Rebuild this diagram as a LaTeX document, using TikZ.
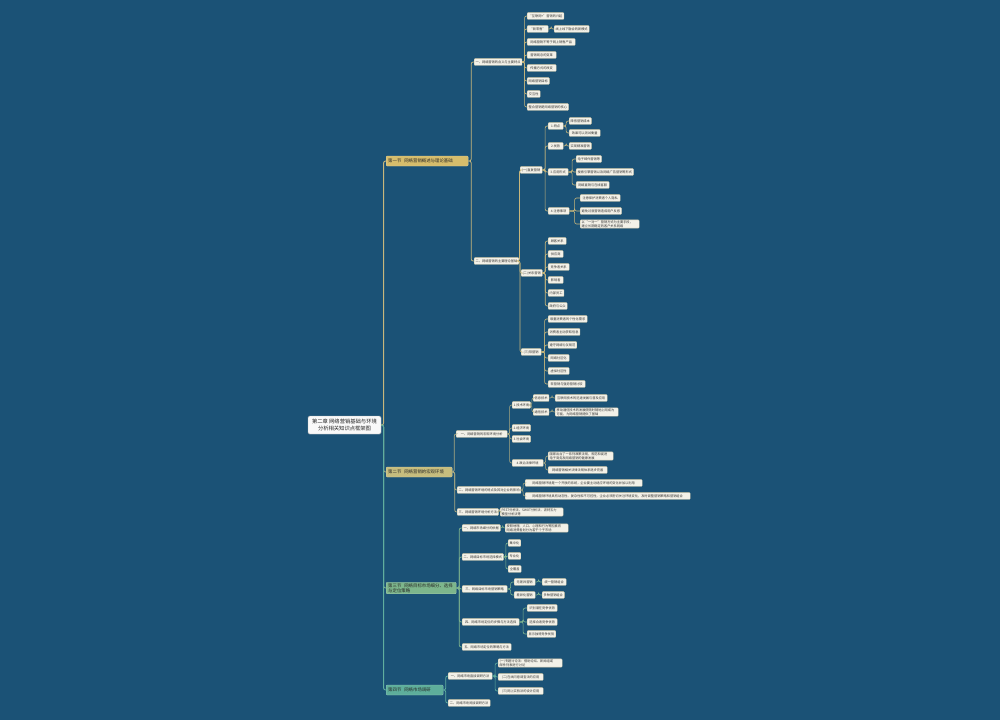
\documentclass[tikz,border=0pt]{standalone}
\usepackage{fontspec}
\setmainfont{Noto Sans CJK SC}
\XeTeXlinebreaklocale "zh"
\XeTeXlinebreakskip=0pt plus 1pt
\usetikzlibrary{calc}
\definecolor{bgc}{HTML}{1B5276}
\definecolor{leaff}{HTML}{F3F1E8}
\definecolor{leafd}{HTML}{CFC7A6}
\definecolor{gA}{HTML}{D6BD6C}
\definecolor{lA}{HTML}{C8B77C}
\definecolor{gB}{HTML}{C6BD7E}
\definecolor{lB}{HTML}{A9A982}
\definecolor{gC}{HTML}{7DB68C}
\definecolor{lC}{HTML}{7FB58E}
\definecolor{gD}{HTML}{5EAE9B}
\definecolor{lD}{HTML}{60AE9E}
\tikzset{
 leaf/.style={draw=leafd, fill=leaff, line width=0.3pt, rounded corners=0.8pt, anchor=west,
   font=\fontsize{3.2}{3.9}\selectfont, text=black!80, inner xsep=1.5pt, inner ysep=0.7pt, minimum height=6.8pt},
 mainb/.style={draw=#1!70!white, fill=#1, line width=0.4pt, rounded corners=1pt, anchor=west,
   font=\fontsize{4.4}{5.4}\selectfont, text=black!85, inner xsep=2pt, inner ysep=1pt, minimum height=10pt, align=left},
 rootn/.style={draw=gray!60, fill=white!95!gray, line width=0.4pt, rounded corners=1.5pt,
   font=\fontsize{5.3}{6.8}\selectfont, align=center, text=black!85, inner sep=2pt, minimum width=73pt, minimum height=18pt},
 cA/.style={draw=lA, line width=0.6pt, rounded corners=2pt},
 cB/.style={draw=lB, line width=0.6pt, rounded corners=2pt},
 cC/.style={draw=lC, line width=0.6pt, rounded corners=2pt},
 cD/.style={draw=lD, line width=0.6pt, rounded corners=2pt},
 thick1/.style={line width=0.9pt}
}
\newcommand\lfa[5]{\node[leaf,minimum width=#4pt] (#1) at (#2,#3) {#5};}
\newcommand\lfb[5]{\node[leaf,align=left,text width=#4pt] (#1) at (#2,#3) {#5};}
\newcommand\conn[3]{\draw[#1] (#2.east) -- ($(#2.east)!0.5!(#2.east -| #3.west)$) |- (#3.west);}
\begin{document}
\begin{tikzpicture}[x=1pt,y=-1pt]
\fill[bgc] (0,0) rectangle (1000,720);
\useasboundingbox (0,0) rectangle (1000,720);

% root and main branches
\node[rootn] (R) at (344.5,425) {第二章 网络营销基础与环境\\分析相关知识点框架图};
\node[mainb=gA, text width=78pt] (B1) at (386,161) {第一节\ \ 网络营销概述与理论基础};
\node[mainb=gB, text width=62pt] (B2) at (386,472) {第二节\ \ 网络营销的宏观环境};
\node[mainb=gC, text width=66pt] (B3) at (386,588) {第三节\ \ 网络目标市场细分、选择\\与定位策略};
\node[mainb=gD, text width=53pt] (B4) at (386,690) {第四节\ \ 网络市场调研};

% ---------- branch 1 ----------
\lfa{a1}{474}{62}{47}{一、网络营销的含义与主要特点}
\lfa{a2}{474}{261}{44}{二、网络营销的主要理论基础}
\lfa{a11}{527}{16}{33}{“互联网+”营销的兴起}
\lfa{a12}{527}{29}{21}{“新零售”}
\lfa{a12x}{554}{29}{35}{线上线下融合的新模式}
\lfa{a13}{527}{42}{48}{网络营销不等于网上销售产品}
\lfa{a14}{527}{55}{29}{营销观念的变革}
\lfa{a15}{527}{68}{29}{传播方式的改变}
\lfa{a16}{527}{81}{21}{网络营销目标}
\lfa{a17}{527}{94}{13}{交互性}
\lfa{a18}{527}{107}{41}{整合营销是网络营销的核心}

\lfa{b1}{520}{170}{22}{(一)直复营销}
\lfa{b2}{521}{273}{21}{(二)关系营销}
\lfa{b3}{521}{352}{20}{(三)软营销}

\lfa{c1}{548}{126}{15}{1.特点}
\lfa{c11}{569}{121}{22}{降低营销成本}
\lfa{c12}{569}{133}{31}{效果可以测试衡量}
\lfa{c2}{548}{146}{15}{2.优势}
\lfa{c21}{569}{146}{22}{实现精准营销}
\lfa{c3}{548}{172}{20}{3.应用形式}
\lfa{c31}{576}{159}{25}{电子邮件营销等}
\lfa{c32}{576}{172}{57}{搜索引擎营销以及网络广告营销等形式}
\lfa{c33}{576}{185}{33}{网络直销与在线客服}
\lfa{c4}{548}{211}{21}{4.注意事项}
\lfa{c41}{580}{198}{40}{注意保护消费者个人隐私}
\lfa{c42}{580}{211}{41}{避免过度营销造成用户反感}
\lfb{c43}{580}{224}{56}{以“一对一”营销方式为主要手段，\\建立长期稳定的客户关系网络}

\lfa{b21}{548}{241}{18}{顾客关系}
\lfa{b22}{548}{254}{15}{供应商}
\lfa{b23}{548}{267}{21}{竞争者关系}
\lfa{b24}{548}{280}{15}{影响者}
\lfa{b25}{548}{293}{15}{内部员工}
\lfa{b26}{548}{306}{18}{政府与公众}

\lfa{b31}{548}{319}{39}{尊重消费者的个性化需求}
\lfa{b32}{548}{332}{31}{消费者主动获取信息}
\lfa{b33}{548}{345}{28}{遵守网络礼仪规范}
\lfa{b34}{548}{358}{21}{网络社区化}
\lfa{b35}{548}{371}{21}{虚拟社区性}
\lfa{b36}{548}{384}{37}{软营销与强势营销比较}

% ---------- branch 2 ----------
\lfa{d1}{456}{434}{51}{一、网络营销的宏观环境分析}
\lfa{d2}{457}{490}{63}{二、网络营销环境的特点及其对企业的影响}
\lfa{d3}{457}{512}{41}{三、网络营销环境分析方法}
\lfa{e1}{512}{405}{15}{1.技术环境}
\lfa{f1}{533}{398}{14}{信息技术}
\lfa{f1x}{555}{398}{52}{互联网技术的迅速发展与普及应用}
\lfa{f2}{533}{412}{14}{通信技术}
\lfb{f2x}{555}{412}{60}{移动通信技术的发展使随时随地上网成为\\可能，为网络营销提供了基础}
\lfa{e2}{512}{428}{15}{2.经济环境}
\lfa{e3}{512}{439}{15}{3.社会环境}
\lfa{e4}{512}{463}{31}{4.政治法律环境}
\lfb{g1}{548}{456}{62}{国家出台了一系列政策法规，规范和促进\\电子商务及网络营销的健康发展}
\lfa{g2}{548}{470}{59}{网络营销相关法律法规体系逐步完善}
\lfa{h1}{525}{483}{117}{网络营销环境是一个开放的系统，企业要主动适应环境的变化并加以利用}
\lfa{h2}{525}{496}{165}{网络营销环境具有动态性、复杂性和不可控性，企业必须密切关注环境变化，及时调整营销策略和营销组合}
\lfb{h3}{500}{512}{60}{PEST分析法、SWOT分析法、波特五力\\模型分析法等}

% ---------- branch 3 ----------
\lfa{i1}{462}{528}{36}{一、网络市场细分的依据}
\lfb{i1x}{505}{528}{60}{按照地理、人口、心理和行为等因素将\\网络消费者划分为若干个子市场}
\lfa{i2}{462}{557}{40}{二、网络目标市场选择模式}
\lfa{i21}{508}{543}{11}{集中化}
\lfa{i22}{508}{556}{11}{专业化}
\lfa{i23}{508}{569}{13}{全覆盖}
\lfa{i3}{462}{589}{45}{三、网络目标市场营销策略}
\lfa{j1}{514}{582}{21}{无差异营销}
\lfa{j1x}{542}{582}{24}{统一营销组合}
\lfa{j2}{514}{595}{21}{差异化营销}
\lfa{j2x}{542}{595}{21}{多种营销组合}
\lfa{i4}{462}{622}{57}{四、网络市场定位的步骤与方法选择}
\lfa{k41}{527}{608}{30}{识别潜在竞争优势}
\lfa{k42}{527}{622}{30}{选择合适竞争优势}
\lfa{k43}{527}{634}{28}{显示独特竞争优势}
\lfa{i5}{462}{647}{49}{五、网络市场定位的策略与方法}

% ---------- branch 4 ----------
\lfa{m1}{448}{676}{44}{一、网络市场直接调研方法}
\lfb{m11}{498}{663}{61}{(一)专题讨论法：借助论坛、新闻组或\\邮件列表进行讨论}
\lfa{m12}{498}{677}{45}{(二)在线问卷调查法的应用}
\lfa{m13}{498}{691}{45}{(三)网上实验法的设计应用}
\lfa{m2}{448}{703}{42}{二、网络市场间接调研方法}

% ---------- connectors ----------
\conn{cA,thick1}{R}{B1}
\conn{cB,thick1}{R}{B2}
\conn{cC,thick1}{R}{B3}
\conn{cD,thick1}{R}{B4}

\conn{cA,line width=0.75pt}{B1}{a1}
\conn{cA,line width=0.75pt}{B1}{a2}
\foreach \n in {a11,a12,a13,a14,a15,a16,a17,a18} {\conn{cA}{a1}{\n}}
\conn{cA}{a12}{a12x}
\foreach \n in {b1,b2,b3} {\conn{cA}{a2}{\n}}
\foreach \n in {c1,c2,c3,c4} {\conn{cA}{b1}{\n}}
\foreach \n in {c11,c12} {\conn{cA}{c1}{\n}}
\conn{cA}{c2}{c21}
\foreach \n in {c31,c32,c33} {\conn{cA}{c3}{\n}}
\foreach \n in {c41,c42,c43} {\conn{cA}{c4}{\n}}
\foreach \n in {b21,b22,b23,b24,b25,b26} {\conn{cA}{b2}{\n}}
\foreach \n in {b31,b32,b33,b34,b35,b36} {\conn{cA}{b3}{\n}}

\foreach \n in {d1,d2,d3} {\conn{cB,line width=0.75pt}{B2}{\n}}
\foreach \n in {e1,e2,e3,e4} {\conn{cB}{d1}{\n}}
\foreach \n in {f1,f2} {\conn{cB}{e1}{\n}}
\conn{cB}{f1}{f1x}
\conn{cB}{f2}{f2x}
\foreach \n in {g1,g2} {\conn{cB}{e4}{\n}}
\foreach \n in {h1,h2} {\conn{cB}{d2}{\n}}
\conn{cB}{d3}{h3}

\foreach \n in {i1,i2,i3,i4,i5} {\conn{cC,line width=0.75pt}{B3}{\n}}
\conn{cC}{i1}{i1x}
\foreach \n in {i21,i22,i23} {\conn{cC}{i2}{\n}}
\foreach \n in {j1,j2} {\conn{cC}{i3}{\n}}
\conn{cC}{j1}{j1x}
\conn{cC}{j2}{j2x}
\foreach \n in {k41,k42,k43} {\conn{cC}{i4}{\n}}

\foreach \n in {m1,m2} {\conn{cD,line width=0.75pt}{B4}{\n}}
\foreach \n in {m11,m12,m13} {\conn{cD}{m1}{\n}}
\end{tikzpicture}
\end{document}
